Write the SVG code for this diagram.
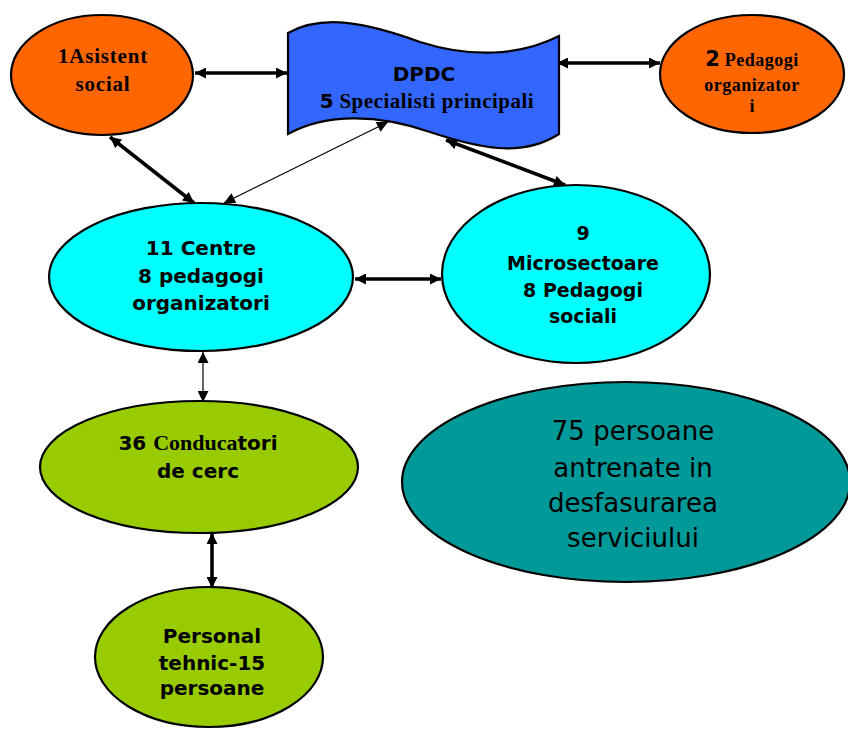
<svg xmlns="http://www.w3.org/2000/svg" width="848" height="729" viewBox="0 0 848 729">
<style>
.node{stroke:#000;stroke-width:2.2}
.or{fill:#FF6600}
.bl{fill:#3366FF}
.cy{fill:#00FFFF}
.gr{fill:#99CC00}
.te{fill:#009999}
.ss{font-family:"DejaVu Sans","Verdana",sans-serif;font-weight:bold;fill:#000}
.sf{font-family:"Liberation Serif","Times New Roman",serif;font-weight:bold;fill:#000}
.rg{font-family:"DejaVu Sans","Verdana",sans-serif;fill:#000;font-size:26px}
text{text-anchor:middle}
.thick{stroke:#000;stroke-width:3.5;fill:none;marker-start:url(#ah);marker-end:url(#ah)}
.thin{stroke:#000;stroke-width:1.2;fill:none;marker-start:url(#at);marker-end:url(#at)}
</style>
<defs>
<marker id="ah" viewBox="0 0 10 10" refX="10" refY="5" markerUnits="userSpaceOnUse" markerWidth="12" markerHeight="11" orient="auto-start-reverse">
<path d="M0,0 L10,5 L0,10 z" fill="#000"/>
</marker>
<marker id="at" viewBox="0 0 10 10" refX="10" refY="5" markerUnits="userSpaceOnUse" markerWidth="12" markerHeight="11" orient="auto-start-reverse">
<path d="M0,0 L10,5 L0,10 z" fill="#000"/>
</marker>
</defs>
<g id="connectors">
<line class="thick" x1="195" y1="73" x2="287" y2="73"/>
<line class="thick" x1="557" y1="63" x2="660" y2="63"/>
<line class="thick" x1="110" y1="137" x2="194" y2="203"/>
<line class="thin" x1="388" y1="122" x2="224" y2="203"/>
<line class="thick" x1="446" y1="140" x2="565" y2="185"/>
<line class="thick" x1="355" y1="279" x2="441" y2="279"/>
<line class="thin" x1="203" y1="352" x2="203" y2="402"/>
<line class="thick" x1="212" y1="533" x2="212" y2="588"/>
</g>
<g id="n1">
<ellipse class="node or" cx="102" cy="75" rx="91" ry="60"/>
<text class="sf" x="103" y="63" font-size="21" letter-spacing="0.8">1Asistent</text>
<text class="sf" x="103" y="91" font-size="21" letter-spacing="0.8">social</text>
</g>
<g id="dpdc">
<path class="node bl" d="M288,33 C322,14 365,22 420,42 C470,58 520,56 559,36 L559,134 C522,158 478,148 430,132 C378,114 326,113 288,134 Z"/>
<text class="ss" x="424" y="81" font-size="20">DPDC</text>
<text x="427" y="108"><tspan class="ss" font-size="20">5</tspan><tspan class="sf" font-size="21" letter-spacing="0.5"> Specialisti principali</tspan></text>
</g>
<g id="n2">
<ellipse class="node or" cx="752" cy="74" rx="92" ry="59"/>
<text x="752" y="66"><tspan class="ss" font-size="21">2</tspan><tspan class="sf" font-size="18" letter-spacing="0.5"> Pedagogi</tspan></text>
<text class="sf" x="752" y="91" font-size="18" letter-spacing="0.5">organizator</text>
<text class="sf" x="752" y="112" font-size="18">i</text>
</g>
<g id="centre">
<ellipse class="node cy" cx="201" cy="277" rx="152" ry="74"/>
<text class="ss" x="201" y="255" font-size="20">11 Centre</text>
<text class="ss" x="201" y="283" font-size="20">8 pedagogi</text>
<text class="ss" x="201" y="310" font-size="20">organizatori</text>
</g>
<g id="micro">
<ellipse class="node cy" cx="576" cy="274" rx="134" ry="89"/>
<text class="ss" x="583" y="240" font-size="19">9</text>
<text class="ss" x="583" y="270" font-size="19">Microsectoare</text>
<text class="ss" x="583" y="297" font-size="19">8 Pedagogi</text>
<text class="ss" x="583" y="323" font-size="19">sociali</text>
</g>
<g id="cond">
<ellipse class="node gr" cx="199" cy="467" rx="159" ry="66"/>
<text x="198" y="450"><tspan class="ss" font-size="20">36 </tspan><tspan class="sf" font-size="22">Conduca</tspan><tspan class="ss" font-size="20">tori</tspan></text>
<text class="ss" x="198" y="478" font-size="20">de cerc</text>
</g>
<g id="pers">
<ellipse class="node gr" cx="209" cy="657" rx="114" ry="70"/>
<text class="ss" x="212" y="643" font-size="20">Personal</text>
<text class="ss" x="212" y="670" font-size="20">tehnic-15</text>
<text class="ss" x="212" y="695" font-size="20">persoane</text>
</g>
<g id="total">
<ellipse class="node te" cx="626" cy="482" rx="224" ry="100"/>
<text class="rg" x="633" y="440">75 persoane</text>
<text class="rg" x="633" y="477">antrenate in</text>
<text class="rg" x="633" y="512">desfasurarea</text>
<text class="rg" x="633" y="547">serviciului</text>
</g>
</svg>
